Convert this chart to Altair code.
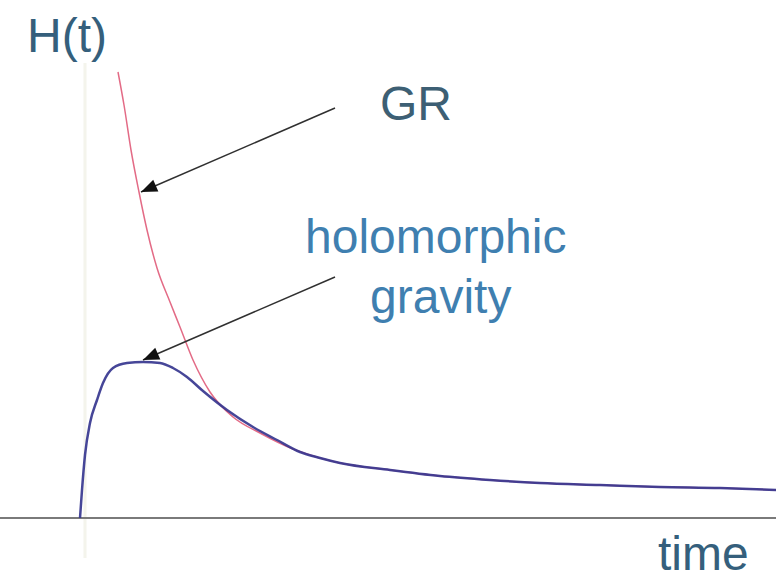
import altair as alt
import pandas as pd

# Hubble rate H(t) for two models (arbitrary units)
holo_t = [0.00, 0.02, 0.05, 0.10, 0.17, 0.23, 0.33, 0.47, 0.63, 0.80, 0.93, 1.07,
          1.23, 1.47, 1.73, 1.97, 2.20, 2.40, 2.60, 3.10, 3.60, 4.10, 4.60, 5.20,
          5.80, 6.40, 6.96]
holo_h = [0.00, 0.28, 0.63, 0.95, 1.18, 1.35, 1.50, 1.55, 1.56, 1.55, 1.50, 1.41,
          1.27, 1.08, 0.91, 0.78, 0.66, 0.60, 0.55, 0.48, 0.42, 0.38, 0.35, 0.33,
          0.31, 0.30, 0.28]

gr_t = [0.38, 0.44, 0.51, 0.59, 0.67, 0.77, 0.90, 1.00, 1.13, 1.30, 1.53, 1.80,
        2.13, 2.40, 2.60, 3.10, 3.60, 4.10, 4.60, 5.20, 5.80, 6.40, 6.96]
gr_h = [4.46, 4.13, 3.68, 3.26, 2.88, 2.50, 2.16, 1.91, 1.58, 1.26, 1.01, 0.85,
        0.69, 0.60, 0.55, 0.48, 0.42, 0.38, 0.35, 0.33, 0.31, 0.30, 0.28]

# annotation labels
label_text = ["H(t)", "GR", "holomorphic", "gravity", "time"]
label_t = [-0.53, 3.00, 2.25, 2.90, 5.78]
label_h = [4.66, 3.98, 2.65, 2.05, -0.52]
label_color = ["#355f7c", "#3d5f74", "#3f7fb0", "#3f7fb0", "#355f7c"]

# arrows: tail -> tip
arrow_t0 = [2.55, 2.55]
arrow_h0 = [4.10, 2.41]
arrow_t1 = [0.61, 0.63]
arrow_h1 = [3.26, 1.58]
arrow_angle = [246.6, 246.6]

T_DOMAIN = [-0.8, 6.96]
H_DOMAIN = [-0.63, 5.18]

xs = alt.Scale(domain=T_DOMAIN, nice=False, zero=False)
ys = alt.Scale(domain=H_DOMAIN, nice=False, zero=False)

holo = pd.DataFrame({"t": holo_t, "H": holo_h})
gr = pd.DataFrame({"t": gr_t, "H": gr_h})
labels = pd.DataFrame({"t": label_t, "H": label_h, "text": label_text, "color": label_color})
arrows = pd.DataFrame({"t0": arrow_t0, "h0": arrow_h0, "t1": arrow_t1, "h1": arrow_h1,
                       "angle": arrow_angle})

# faint vertical guide at the origin
vguide = alt.Chart(pd.DataFrame({"t": [0.05], "h0": [-0.40], "h1": [4.55]})).mark_rule(
    color="#f4f4ec", strokeWidth=3
).encode(
    x=alt.X("t:Q", scale=xs, axis=None),
    y=alt.Y("h0:Q", scale=ys, axis=None),
    y2="h1:Q",
)

# time axis
haxis = alt.Chart(pd.DataFrame({"H": [0.0]})).mark_rule(
    color="#7a7a7a", strokeWidth=2
).encode(
    y=alt.Y("H:Q", scale=ys, axis=None),
)

gr_line = alt.Chart(gr).mark_line(
    color="#e36b86", strokeWidth=1.5, interpolate="monotone"
).encode(
    x=alt.X("t:Q", scale=xs, axis=None),
    y=alt.Y("H:Q", scale=ys, axis=None),
)

holo_line = alt.Chart(holo).mark_line(
    color="#36368f", strokeWidth=2.5, opacity=0.92, interpolate="monotone"
).encode(
    x=alt.X("t:Q", scale=xs, axis=None),
    y=alt.Y("H:Q", scale=ys, axis=None),
)

arrow_shaft = alt.Chart(arrows).mark_rule(color="#303030", strokeWidth=1.5).encode(
    x=alt.X("t0:Q", scale=xs, axis=None),
    y=alt.Y("h0:Q", scale=ys, axis=None),
    x2="t1:Q",
    y2="h1:Q",
)

arrow_head = alt.Chart(arrows).mark_point(
    shape="M0,0 L-0.8,2 L0.8,2 Z", filled=True, color="#111111", opacity=1, size=260
).encode(
    x=alt.X("t1:Q", scale=xs, axis=None),
    y=alt.Y("h1:Q", scale=ys, axis=None),
    angle=alt.Angle("angle:Q", scale=None),
)

text = alt.Chart(labels).mark_text(
    align="left", baseline="alphabetic", font="Liberation Sans", fontSize=48
).encode(
    x=alt.X("t:Q", scale=xs, axis=None),
    y=alt.Y("H:Q", scale=ys, axis=None),
    text="text:N",
    color=alt.Color("color:N", scale=None),
)

chart = alt.layer(vguide, haxis, gr_line, holo_line, arrow_shaft, arrow_head, text).properties(
    width=776, height=581, autosize=alt.AutoSizeParams(type="none"), padding=0,
    background="white",
).configure_view(stroke=None)

chart.save("out.html", embed_options={"renderer": "svg", "actions": False})
